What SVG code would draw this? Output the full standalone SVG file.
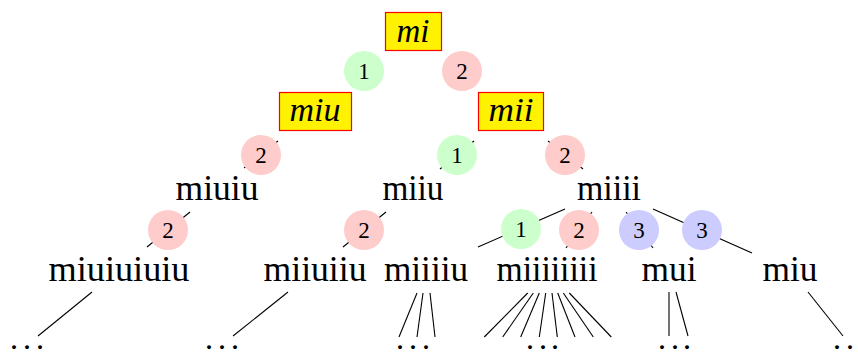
<svg xmlns="http://www.w3.org/2000/svg" width="858" height="354" viewBox="0 0 858 354">
<style>
.box{fill:#FFF200;stroke:#FF0000;stroke-width:1.2}
.bt{font-family:"Liberation Serif",serif;font-style:italic;font-size:33px;text-anchor:middle;fill:#000}
.w{font-family:"Liberation Serif",serif;font-size:35px;text-anchor:middle;fill:#000}
.d{font-family:"Liberation Serif",serif;font-size:24px;font-weight:bold;fill:#000}
.g{fill:#CCFFCC}.r{fill:#FFCCCC}.b{fill:#CCCCFF}
.n{font-family:"Liberation Serif",serif;font-size:23px;text-anchor:middle;fill:#000}
#edges line{stroke:#000;stroke-width:1.1}
</style>
<rect width="858" height="354" fill="#fff"/>
<g id="edges">
<line x1="278" y1="141" x2="244" y2="168"/>
<line x1="474" y1="141" x2="440" y2="169"/>
<line x1="548" y1="141" x2="583" y2="169"/>
<line x1="190" y1="212" x2="147" y2="247"/>
<line x1="386" y1="212" x2="343" y2="247"/>
<line x1="565" y1="209" x2="478" y2="247"/>
<line x1="592" y1="212" x2="566" y2="248"/>
<line x1="626" y1="212" x2="653" y2="248"/>
<line x1="653" y1="209" x2="752" y2="253"/>
<line x1="92" y1="292" x2="38" y2="336"/>
<line x1="288" y1="292" x2="233" y2="336"/>
<line x1="417" y1="293" x2="399" y2="337"/>
<line x1="423" y1="293" x2="417" y2="337"/>
<line x1="430" y1="293" x2="435" y2="337"/>
<line x1="527.7" y1="293" x2="484.3" y2="337"/>
<line x1="533.3" y1="293" x2="502.7" y2="337"/>
<line x1="539.3" y1="293" x2="520.7" y2="337"/>
<line x1="545.7" y1="293" x2="539.3" y2="337"/>
<line x1="552" y1="293" x2="557.3" y2="337"/>
<line x1="557.7" y1="293" x2="575" y2="337"/>
<line x1="563.3" y1="293" x2="593.3" y2="337"/>
<line x1="569.3" y1="293" x2="611.3" y2="337"/>
<line x1="669" y1="292" x2="669" y2="336"/>
<line x1="676" y1="292" x2="688" y2="336"/>
<line x1="808" y1="292" x2="843" y2="336"/>
</g>
<g id="labels">
<g id="l1"><circle class="g" cx="364" cy="71" r="20"/><text class="n" x="364" y="79">1</text></g>
<g id="l2"><circle class="r" cx="462" cy="71" r="20"/><text class="n" x="462" y="79">2</text></g>
<g id="l3"><circle class="r" cx="261" cy="155" r="20"/><text class="n" x="261" y="163">2</text></g>
<g id="l4"><circle class="g" cx="457" cy="155" r="20"/><text class="n" x="457" y="163">1</text></g>
<g id="l5"><circle class="r" cx="565" cy="155" r="20"/><text class="n" x="565" y="163">2</text></g>
<g id="l6"><circle class="r" cx="168" cy="230" r="20"/><text class="n" x="168" y="238">2</text></g>
<g id="l7"><circle class="r" cx="364" cy="230" r="20"/><text class="n" x="364" y="238">2</text></g>
<g id="l8"><circle class="g" cx="521" cy="229" r="20"/><text class="n" x="521" y="237">1</text></g>
<g id="l9"><circle class="r" cx="579" cy="230" r="20"/><text class="n" x="579" y="238">2</text></g>
<g id="l10"><circle class="b" cx="639" cy="230" r="20"/><text class="n" x="639" y="238">3</text></g>
<g id="l11"><circle class="b" cx="702" cy="230" r="20"/><text class="n" x="702" y="238">3</text></g>
</g>
<g id="n-mi"><rect class="box" x="385.5" y="12.5" width="56" height="38"/><text class="bt" x="413" y="42" textLength="33" lengthAdjust="spacingAndGlyphs">mi</text></g>
<g id="n-miu"><rect class="box" x="279.5" y="92.5" width="72" height="38"/><text class="bt" x="315" y="121" textLength="51" lengthAdjust="spacingAndGlyphs">miu</text></g>
<g id="n-mii"><rect class="box" x="478.5" y="92.5" width="65" height="38"/><text class="bt" x="511" y="121" textLength="45" lengthAdjust="spacingAndGlyphs">mii</text></g>
<g id="n-miuiu"><text class="w" x="217" y="200" textLength="83" lengthAdjust="spacingAndGlyphs">miuiu</text></g>
<g id="n-miiu"><text class="w" x="413" y="200" textLength="61" lengthAdjust="spacingAndGlyphs">miiu</text></g>
<g id="n-miiii"><text class="w" x="609" y="200" textLength="64" lengthAdjust="spacingAndGlyphs">miiii</text></g>
<g id="n-miuiuiuiu"><text class="w" x="119" y="281" textLength="141" lengthAdjust="spacingAndGlyphs">miuiuiuiu</text></g>
<g id="n-miiuiiu"><text class="w" x="315" y="281" textLength="103" lengthAdjust="spacingAndGlyphs">miiuiiu</text></g>
<g id="n-miiiiu"><text class="w" x="426" y="281" textLength="84" lengthAdjust="spacingAndGlyphs">miiiiu</text></g>
<g id="n-miiiiiiii"><text class="w" x="547" y="281" textLength="101" lengthAdjust="spacingAndGlyphs">miiiiiiii</text></g>
<g id="n-mui"><text class="w" x="669" y="281" textLength="55" lengthAdjust="spacingAndGlyphs">mui</text></g>
<g id="n-miu2"><text class="w" x="790" y="281" textLength="55" lengthAdjust="spacingAndGlyphs">miu</text></g>
<g id="n-d1"><text class="d" x="11 24 37" y="348.5">...</text></g>
<g id="n-d2"><text class="d" x="206 219 232" y="348.5">...</text></g>
<g id="n-d3"><text class="d" x="397 410 423" y="348.5">...</text></g>
<g id="n-d4"><text class="d" x="527 540 552" y="348.5">...</text></g>
<g id="n-d5"><text class="d" x="659 672 684" y="348.5">...</text></g>
<g id="n-d6"><text class="d" x="834 847" y="348.5">..</text></g>
</svg>
